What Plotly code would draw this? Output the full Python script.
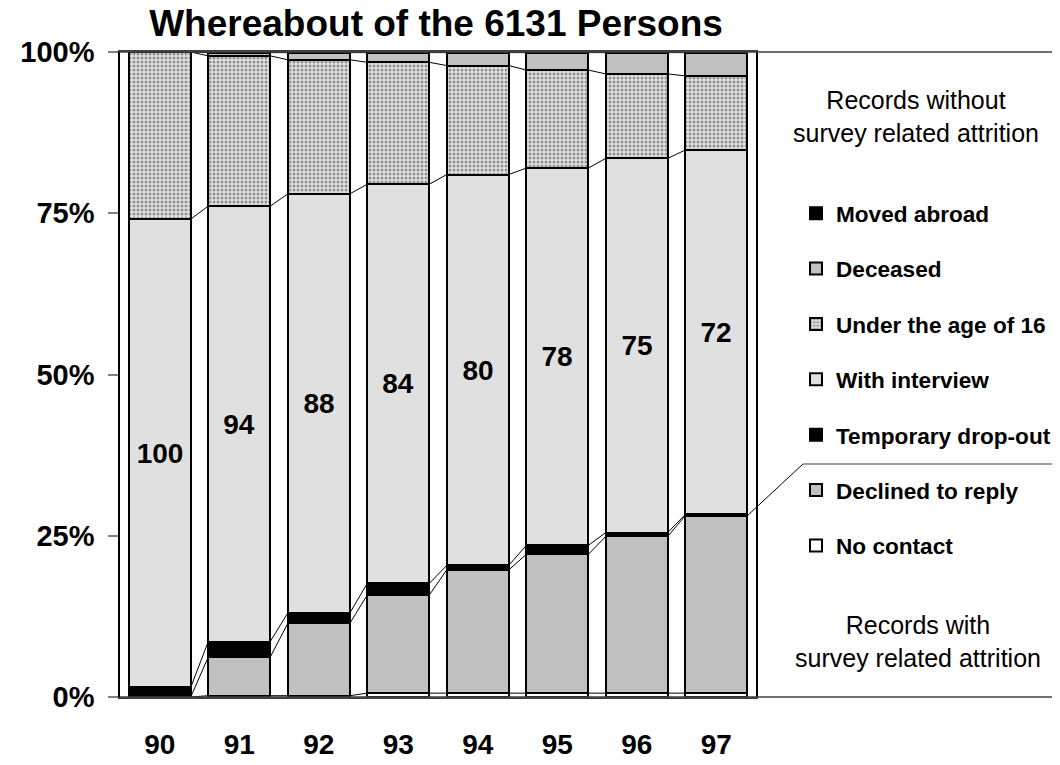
import plotly.graph_objects as go

years = ['90', '91', '92', '93', '94', '95', '96', '97']
no_contact = [0.0, 0.2, 0.2, 0.6, 0.6, 0.6, 0.6, 0.6]
declined = [0.0, 6.0, 11.2, 15.2, 19.1, 21.5, 24.3, 27.5]
temp_dropout = [1.5, 2.4, 1.6, 1.8, 0.7, 1.4, 0.6, 0.2]
interview = [72.6, 67.5, 65.0, 61.9, 60.6, 58.5, 58.0, 56.5]
under16 = [25.9, 23.3, 20.8, 18.9, 16.9, 15.2, 13.1, 11.5]
deceased = [0.0, 0.5, 1.1, 1.5, 2.0, 2.7, 3.3, 3.6]
moved = [0.0, 0.1, 0.1, 0.1, 0.1, 0.1, 0.1, 0.1]
index_labels = ['100', '94', '88', '84', '80', '78', '75', '72']
ytick_vals = [0, 25, 50, 75, 100]
ytick_text = ['0%', '25%', '50%', '75%', '100%']

FONT = 'Liberation Sans, Arial, sans-serif'
BW = 0.78
xs = list(range(len(years)))

# page has an 8px body margin; size the figure so it fits the 1060x765 window
W, H = 1052, 757
L, T, PW, PH = 112, 44, 636, 645

series = [
    ('No contact', no_contact, '#FFFFFF', None),
    ('Declined to reply', declined, '#C0C0C0', None),
    ('Temporary drop-out', temp_dropout, '#000000', None),
    ('With interview', interview, '#E0E0E0', None),
    ('Under the age of 16', under16, '#E2E2E2', 'dots'),
    ('Deceased', deceased, '#C0C0C0', None),
    ('Moved abroad', moved, '#000000', None),
]

fig = go.Figure()
n = len(series)
for i, (name, vals, color, pat) in enumerate(series):
    marker = dict(color=color, line=dict(color='black', width=2))
    if pat:
        marker['pattern'] = dict(shape='.', size=4, solidity=0.45,
                                 fgcolor='#404040', bgcolor=color, fillmode='overlay')
    kw = {}
    if name == 'With interview':
        kw = dict(text=index_labels, textposition='inside', insidetextanchor='middle',
                  textangle=0, constraintext='none',
                  textfont=dict(family=FONT, size=28, color='black', weight='bold'))
    fig.add_trace(go.Bar(x=xs, y=vals, name=name, marker=marker, width=BW,
                         legendgroup=name, legendrank=n - i, hoverinfo='skip', **kw))

# series lines connecting cumulative tops between adjacent bars
cum = [0.0] * len(years)
lx, ly = [], []
for name, vals, color, pat in series[:-1]:
    cum = [c + v for c, v in zip(cum, vals)]
    for j in range(len(years) - 1):
        lx += [xs[j] + BW / 2, xs[j + 1] - BW / 2, None]
        ly += [cum[j], cum[j + 1], None]
fig.add_trace(go.Scatter(x=lx, y=ly, mode='lines', line=dict(color='black', width=1),
                         showlegend=False, hoverinfo='skip'))

def px_x(px):
    return (px - 8 - L) / PW

def px_y(py):
    return (T + PH - (py - 8)) / PH

# separator line from last bar's "declined" top to legend divider
last = len(years) - 1
decl_top = no_contact[last] + declined[last]
x_start = (xs[last] + BW / 2 + 0.5) / len(years)
fig.add_shape(type='line', xref='paper', yref='paper', x0=x_start, y0=decl_top / 100,
              x1=px_x(803), y1=px_y(464), line=dict(color='black', width=1))
fig.add_shape(type='line', xref='paper', yref='paper', x0=px_x(803), y0=px_y(464),
              x1=1.5, y1=px_y(464), line=dict(color='#404040', width=1))
# top & bottom frame lines extending to the right
for yy in (0, 1):
    fig.add_shape(type='line', xref='paper', yref='paper', x0=0, y0=yy, x1=1.5, y1=yy,
                  line=dict(color='#404040', width=1.5))

fig.add_annotation(xref='paper', yref='paper', x=px_x(916), y=px_y(117),
                   xanchor='center', yanchor='middle',
                   text='Records without<br>survey related attrition', showarrow=False,
                   font=dict(family=FONT, size=25, color='black'), align='center')
fig.add_annotation(xref='paper', yref='paper', x=px_x(918), y=px_y(641),
                   xanchor='center', yanchor='middle',
                   text='Records with<br>survey related attrition', showarrow=False,
                   font=dict(family=FONT, size=25, color='black'), align='center')

fig.update_layout(
    width=W, height=H,
    margin=dict(l=L, r=W - L - PW, t=T, b=H - T - PH, autoexpand=False),
    paper_bgcolor='white', plot_bgcolor='white',
    barmode='stack', bargap=0,
    font=dict(family=FONT, color='black'),
    title=dict(text='<b>Whereabout of the 6131 Persons</b>', xref='container', yref='container',
               x=(436 - 8) / W, y=1 - (23 - 8) / H, xanchor='center', yanchor='middle',
               font=dict(family=FONT, size=37, color='black')),
    legend=dict(x=px_x(796), y=px_y(192), xanchor='left', yanchor='top',
                traceorder='grouped', tracegroupgap=23,
                font=dict(family=FONT, size=22.6, color='black', weight='bold'),
                bgcolor='rgba(0,0,0,0)'),
    showlegend=True,
)
fig.update_xaxes(range=[-0.5, len(years) - 0.5], tickvals=xs, ticktext=years,
                 showgrid=False, zeroline=False, showline=True, linecolor='#404040',
                 linewidth=1.5, mirror=True, ticks='', ticklabelstandoff=22, automargin=False,
                 tickfont=dict(family=FONT, size=28, color='black', weight='bold'))
fig.update_yaxes(range=[0, 100], tickvals=ytick_vals, ticktext=ytick_text,
                 showgrid=False, zeroline=False, showline=True, linecolor='black',
                 linewidth=1.5, mirror=True, ticks='outside', ticklen=10, tickcolor='#808080',
                 tickwidth=2, ticklabelstandoff=8, automargin=False,
                 tickfont=dict(family=FONT, size=29, color='black', weight='bold'))

fig.write_html('out.html')
